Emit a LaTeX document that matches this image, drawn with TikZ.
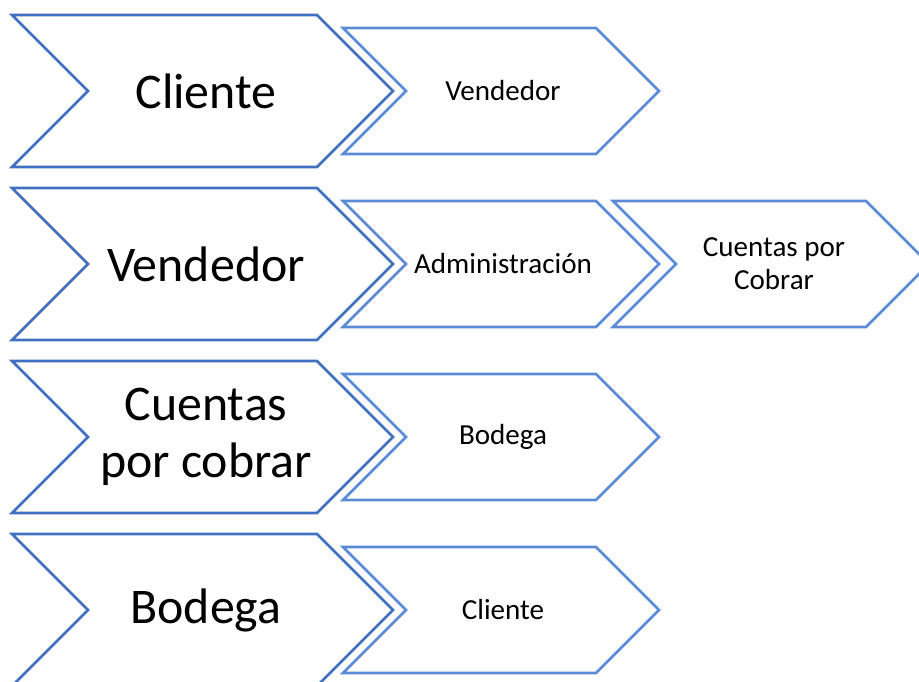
\documentclass[tikz,border=0pt]{standalone}
\usepackage{fontspec}
\setmainfont{Carlito}

\definecolor{bigblue}{HTML}{4170C0}
\definecolor{smallblue}{HTML}{5B8BD6}

\tikzset{
  bigchev/.style={draw=bigblue, line width=1.9pt, fill=white, line join=miter},
  smallchev/.style={draw=smallblue, line width=1.9pt, fill=white, line join=miter},
  bigtext/.style={font=\fontsize{37.4}{43}\selectfont, align=center, inner sep=0pt},
  smalltext/.style={font=\fontsize{21.8}{24.8}\selectfont, align=center, inner sep=0pt},
}

% chevron: left x, centre y, width (to the tip), height
\newcommand{\chevron}[5]{%
  \draw[#1] ({#2},{#3-#5/2}) -- ({#2+#4-#5/2},{#3-#5/2}) -- ({#2+#4},{#3})
    -- ({#2+#4-#5/2},{#3+#5/2}) -- ({#2},{#3+#5/2}) -- ({#2+#5/2},{#3}) -- cycle;}

\begin{document}
\begin{tikzpicture}[x=0.75pt,y=-0.75pt]
\useasboundingbox (0,0) rectangle (919,681);
\clip (0,0) rectangle (919,681);

% left column
\chevron{bigchev}{12}{91}{381}{152}
\chevron{bigchev}{12}{264}{381}{152}
\chevron{bigchev}{12}{437}{381}{152}
\chevron{bigchev}{12}{610}{381}{152}
\node[bigtext] (cliente) at (206,91) {Cliente};
\node[bigtext] (vendedor) at (206,264) {Vendedor};
\node[bigtext] (cuentas) at (206,437) {Cuentas\\por cobrar};
\node[bigtext] (bodega) at (206,610) {Bodega};

% next steps
\chevron{smallchev}{343}{91}{316}{126}
\chevron{smallchev}{343}{264}{316}{126}
\chevron{smallchev}{613}{264}{316}{126}
\chevron{smallchev}{343}{437}{316}{126}
\chevron{smallchev}{343}{610}{316}{126}
\node[smalltext] (cliente-sig) at (503,91) {Vendedor};
\node[smalltext] (vendedor-sig) at (503,264) {Administración};
\node[smalltext] (vendedor-sig2) at (774,264) {Cuentas por\\Cobrar};
\node[smalltext] (cuentas-sig) at (503,437) {Bodega};
\node[smalltext] (bodega-sig) at (503,610) {Cliente};
\end{tikzpicture}
\end{document}
